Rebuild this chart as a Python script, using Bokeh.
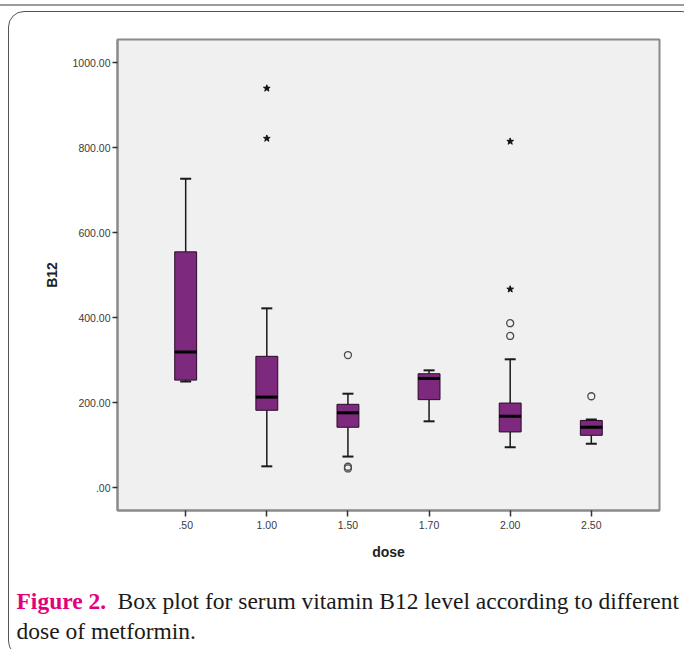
from bokeh.plotting import figure
from bokeh.models import (FactorRange, Range1d, FixedTicker, Label, ColumnDataSource,
                          InlineStyleSheet)
from bokeh.embed import file_html
from bokeh.resources import INLINE

# ---- data ----
doses = [".50", "1.00", "1.50", "1.70", "2.00", "2.50"]
lower_whisker = [250, 50, 73, 156, 95, 103]
q1 = [253, 182, 142, 207, 131, 123]
median = [319, 213, 176, 257, 168, 142]
q3 = [555, 309, 196, 268, 199, 158]
upper_whisker = [727, 422, 221, 276, 302, 160]

outlier_dose = ["1.50", "1.50", "1.50", "2.00", "2.00", "2.50"]
outlier_b12 = [312, 49, 45, 387, 357, 215]

extreme_dose = ["1.00", "1.00", "2.00", "2.00"]
extreme_b12 = [940, 822, 815, 467]

y_ticks = [0, 200, 400, 600, 800, 1000]
y_tick_labels = [".00", "200.00", "400.00", "600.00", "800.00", "1000.00"]

x_title = "dose"
y_title = "B12"
caption_bold = "Figure 2."
caption_line1 = "Box plot for serum vitamin B12 level according to different"
caption_line2 = "dose of metformin."

BOX = "#7d2a7e"
FL, FT, FR, FB = 117, 39, 659, 510   # frame edges on the page

src = ColumnDataSource(dict(dose=doses, lw=lower_whisker, q1=q1, med=median,
                            q3=q3, uw=upper_whisker))

frame_css = InlineStyleSheet(css="""
:host { position: relative; }
:host::before {
  content: ""; position: absolute; left: 0px; right: 0px; top: 4px; height: 2px;
  background: #9c9c9c; z-index: 10; pointer-events: none;
}
:host::after {
  content: ""; position: absolute; left: 8px; top: 11px; right: -14px; bottom: -8px;
  border: 1px solid #555555; border-radius: 16px; z-index: 10; pointer-events: none;
}
""")

p = figure(width=684, height=649,
           x_range=FactorRange(factors=doses, range_padding=0.1135),
           y_range=Range1d(-54, 1055),
           output_backend="svg", toolbar_location=None,
           min_border_left=FL, min_border_right=684 - FR,
           min_border_top=FT, min_border_bottom=649 - FB,
           stylesheets=[frame_css])

p.background_fill_color = "#f0f0f0"
p.border_fill_color = "white"
p.outline_line_color = "#8a8a8a"
p.outline_line_width = 2
p.xgrid.visible = False
p.ygrid.visible = False

# whiskers
p.segment(x0="dose", y0="q3", x1="dose", y1="uw", source=src, line_color="#1a1a1a", line_width=1.5)
p.segment(x0="dose", y0="q1", x1="dose", y1="lw", source=src, line_color="#1a1a1a", line_width=1.5)
p.rect(x="dose", y="uw", width=11, width_units="screen", height=2, height_units="screen",
       source=src, fill_color="#1a1a1a", line_color=None)
p.rect(x="dose", y="lw", width=11, width_units="screen", height=2, height_units="screen",
       source=src, fill_color="#1a1a1a", line_color=None)
# boxes
p.vbar(x="dose", width=0.27, bottom="q1", top="q3", source=src,
       fill_color=BOX, line_color="#2a0a2a", line_width=1)
# medians
p.rect(x="dose", y="med", width=0.27, height=3, height_units="screen",
       source=src, fill_color="black", line_color=None)

# outliers
p.scatter(x=outlier_dose, y=outlier_b12, marker="circle", size=7,
          fill_color=None, line_color="#4a4a4a", line_width=1.3)
p.scatter(x=extreme_dose, y=extreme_b12, marker="star", size=7,
          fill_color="#111111", line_color="#111111")

# axes
for ax in (p.xaxis[0], p.yaxis[0]):
    ax.axis_line_color = "#8a8a8a"
    ax.axis_line_width = 2
    ax.major_tick_line_color = "#333333"
    ax.major_tick_line_width = 1.5
    ax.major_tick_in = 0
    ax.minor_tick_line_color = None
    ax.major_label_text_font = "Liberation Sans"
    ax.major_label_text_font_size = "10.5px"
    ax.major_label_text_color = "#3a3a3a"
    ax.axis_label_text_font = "Liberation Sans"
    ax.axis_label_text_font_style = "bold"
    ax.axis_label_text_font_size = "14px"
    ax.axis_label_text_color = "#222222"

p.yaxis.ticker = FixedTicker(ticks=y_ticks)
p.yaxis.major_label_overrides = {t: l for t, l in zip(y_ticks, y_tick_labels)}
p.yaxis.major_tick_out = 5
p.yaxis.major_label_standoff = 2
p.yaxis.axis_label = y_title
p.yaxis.axis_label_standoff = 10

p.xaxis.major_tick_out = 6
p.xaxis.major_label_standoff = 4
p.xaxis.axis_label = x_title
p.xaxis.axis_label_standoff = 12

# caption (placed in the lower side panel so that it is not clipped to the frame)
CAP_SIZE = "23.5px"
p.add_layout(Label(x=16, y=600, x_units="canvas", y_units="canvas", text=caption_bold,
                   text_font="Liberation Serif", text_font_style="bold",
                   text_font_size=CAP_SIZE, text_color="#e4007c", text_baseline="middle"),
             "below")
p.add_layout(Label(x=117, y=600, x_units="canvas", y_units="canvas", text=caption_line1,
                   text_font="Liberation Serif", text_font_size=CAP_SIZE,
                   text_color="#1a1a1a", text_baseline="middle"),
             "below")
p.add_layout(Label(x=16, y=630, x_units="canvas", y_units="canvas", text=caption_line2,
                   text_font="Liberation Serif", text_font_size=CAP_SIZE,
                   text_color="#1a1a1a", text_baseline="middle"),
             "below")

open("out.html", "w").write(file_html(p, INLINE))
